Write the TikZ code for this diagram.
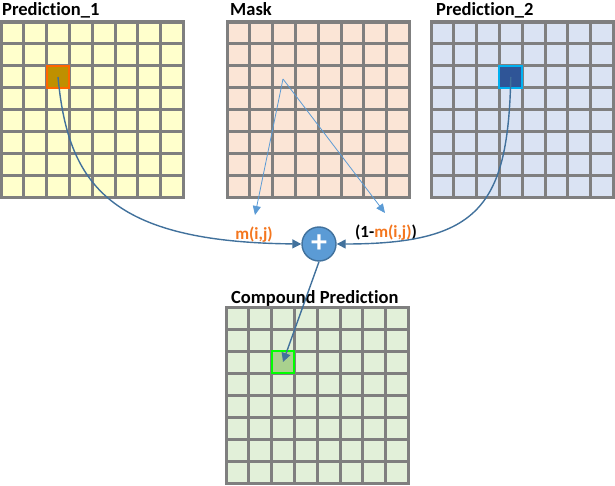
\documentclass[tikz,border=0pt]{standalone}
\usepackage{fontspec}
\setmainfont{Carlito}[Ligatures=NoCommon]
\usetikzlibrary{arrows.meta}
\definecolor{gridgray}{HTML}{7F7F7F}
\definecolor{predyellow}{HTML}{FFFFCC}
\definecolor{maskpeach}{HTML}{FBE5D6}
\definecolor{predblue}{HTML}{DAE3F3}
\definecolor{compgreen}{HTML}{E2F0D9}
\definecolor{linkblue}{HTML}{41719C}
\definecolor{maskblue}{HTML}{5B9BD5}
\definecolor{weightorange}{HTML}{F4761E}
\tikzset{
  gridline/.style={gridgray, line width=3pt},
  title/.style={anchor=base west, inner sep=0pt, font=\bfseries\fontsize{18.5}{20}\selectfont},
  cellmark/.style={line width=2pt, minimum width=22.8pt, minimum height=22pt, inner sep=0pt},
  link/.style={linkblue, line width=1.4pt, -{Triangle[length=9pt,width=9pt]}},
  masklink/.style={maskblue, line width=0.8pt, -{Triangle[length=9pt,width=8pt]}},
  weight/.style={inner sep=0pt, font=\bfseries\fontsize{17}{19}\selectfont}
}
\begin{document}
\begin{tikzpicture}[x=1pt, y=1pt]
    \useasboundingbox (0,0) rectangle (615,485);
    % Prediction_1
    \begin{scope}[shift={(1,287)}]
        \fill[predyellow] (0,0) rectangle (182.4,176);
        \draw[gridline, step={(22.8,22)}] (0,0) grid (182.4,176) (0,0) rectangle (182.4,176);
        \node[cellmark, fill={rgb,255:red,191;green,144;blue,0}, draw={rgb,255:red,255;green,102;blue,0}] (c1) at (57,121) {};
    \end{scope}
    \node[title] (t1) at (2,469) {Prediction\_1};
    % Mask
    \begin{scope}[shift={(227,287)}]
        \fill[maskpeach] (0,0) rectangle (182.4,176);
        \draw[gridline, step={(22.8,22)}] (0,0) grid (182.4,176) (0,0) rectangle (182.4,176);
    \end{scope}
    \node[title] (t2) at (230,469) {Mask};
    % Prediction_2
    \begin{scope}[shift={(431,287)}]
        \fill[predblue] (0,0) rectangle (182.4,176);
        \draw[gridline, step={(22.8,22)}] (0,0) grid (182.4,176) (0,0) rectangle (182.4,176);
        \node[cellmark, fill={rgb,255:red,47;green,85;blue,151}, draw={rgb,255:red,0;green,176;blue,240}] (c2) at (79.8,121) {};
    \end{scope}
    \node[title] (t3) at (436,469) {Prediction\_2};
    % Compound Prediction
    \begin{scope}[shift={(226,2)}]
        \fill[compgreen] (0,0) rectangle (182.4,176);
        \draw[gridline, step={(22.8,22)}] (0,0) grid (182.4,176) (0,0) rectangle (182.4,176);
        \node[cellmark, fill={rgb,255:red,169;green,209;blue,142}, draw={rgb,255:red,0;green,255;blue,0}] (c3) at (57,121) {};
    \end{scope}
    \node[title] (t4) at (231,182) {Compound Prediction};

    \node[circle, minimum size=34pt, inner sep=0pt, fill=maskblue, draw=linkblue, line width=1.4pt, text=white,
          font=\bfseries\fontsize{32}{32}\selectfont] (plus) at (319,241) {+};
    \node[weight, text=weightorange] (w1) at (254,250) {m(i,j)};
    \node[weight] (w2) at (386,252) {(1-{\color{weightorange}m(i,j)})};

    \coordinate (m0) at (283,406);
    \coordinate (ma) at (255,270);
    \coordinate (mb) at (385,272);
    \draw[masklink] (m0) -- (ma);
    \draw[masklink] (m0) -- (mb);

    \draw[link] (c1.center) .. controls (68,300) and (110,243) .. (plus.west);
    \draw[link] (c2.center) .. controls (508,280) and (480,241) .. (plus.east);
    \draw[link] (plus.south) -- (c3.center);
\end{tikzpicture}
\end{document}
